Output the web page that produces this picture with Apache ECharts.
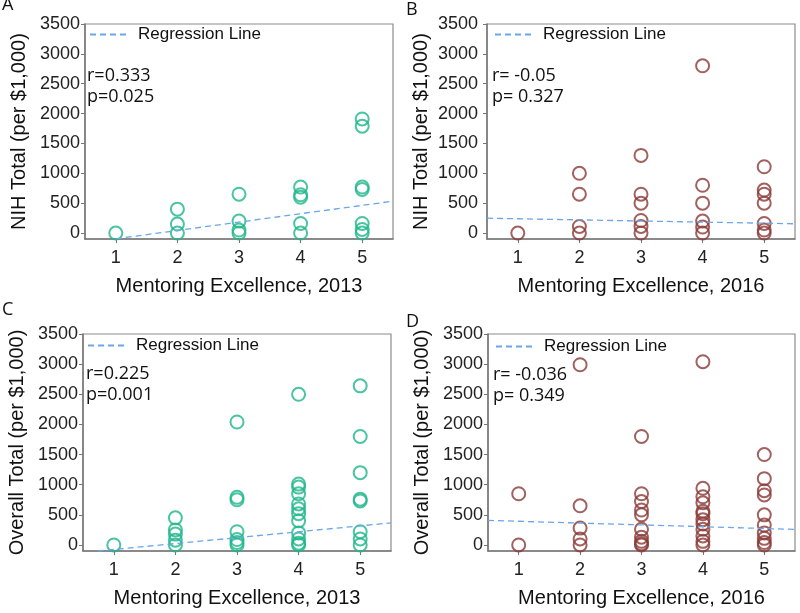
<!DOCTYPE html>
<html>
<head>
<meta charset="utf-8">
<script src="https://cdn.jsdelivr.net/npm/echarts@6/dist/echarts.min.js"></script>
<style>
  html, body { margin: 0; padding: 0; background: #fff; }
  #chart { width: 800px; height: 613px; }
</style>
</head>
<body>
<div id="chart"></div>
<script>
// data
var xLevels = [1, 2, 3, 4, 5];
var yTicks = [0, 500, 1000, 1500, 2000, 2500, 3000, 3500];

// one array per mentoring score (1..5)
var nih2013 = [[0], [400, 150, 0], [650, 200, 50, 0], [770, 640, 600, 160, 0], [1910, 1790, 770, 730, 160, 60, 0]];
var nih2016 = [[0], [1000, 650, 110, 0], [1300, 650, 500, 210, 110, 0], [2800, 800, 500, 200, 100, 0], [1110, 720, 650, 500, 160, 50, 0]];
var overall2013 = [[0], [450, 250, 180, 80, 0], [2040, 790, 750, 220, 90, 40, 0],
  [2500, 1010, 960, 850, 680, 600, 520, 400, 200, 100, 30, 0], [2640, 1800, 1200, 760, 730, 220, 100, 0]];
var overall2016 = [[850, 0], [2990, 650, 280, 100, 0], [1800, 850, 720, 580, 500, 260, 130, 60, 20, 0],
  [3040, 940, 800, 700, 560, 520, 420, 350, 260, 150, 60, 0], [1500, 1100, 900, 830, 500, 330, 200, 110, 40, 0]];

// regression line end points
var regNih2013 = [[1, -97], [5.5, 533]];
var regNih2016 = [[0.5, 248], [5.5, 155]];
var regOverall2013 = [[0.74, -100], [5.5, 366]];
var regOverall2016 = [[0.5, 408], [5.5, 258]];

var panelLetters = ['A', 'B', 'C', 'D'];
var rValues = ['r=0.333', 'r= -0.05', 'r=0.225', 'r= -0.036'];
var pValues = ['p=0.025', 'p= 0.327', 'p=0.001', 'p= 0.349'];
var yNames = ['NIH Total (per $1,000)', 'NIH Total (per $1,000)', 'Overall Total (per $1,000)', 'Overall Total (per $1,000)'];
var xNames = ['Mentoring Excellence, 2013', 'Mentoring Excellence, 2016', 'Mentoring Excellence, 2013', 'Mentoring Excellence, 2016'];

var green = '#1db58a';
var brown = '#8a3a36';
var regColor = '#6aa6e8';

function toPoints(cols) {
  var out = [];
  cols.forEach(function (vals, i) {
    vals.forEach(function (v) { out.push([xLevels[i], v]); });
  });
  return out;
}

var panels = [
  { data: nih2013, reg: regNih2013, color: green, grid: { left: 85, top: 24, width: 308, height: 215 }, labMargin: 5,
    letter: { left: 2, top: -4 }, stats: { left: 87, top: 65 }, legend: { left: 89, top: 26 } },
  { data: nih2016, reg: regNih2016, color: brown, grid: { left: 487, top: 24, width: 308, height: 215 }, labMargin: 9,
    letter: { left: 406, top: 1 }, stats: { left: 492, top: 65 }, legend: { left: 494, top: 26 } },
  { data: overall2013, reg: regOverall2013, color: green, grid: { left: 83, top: 334, width: 308, height: 217 }, labMargin: 5,
    letter: { left: 2, top: 301 }, stats: { left: 86, top: 363 }, legend: { left: 87, top: 337 } },
  { data: overall2016, reg: regOverall2016, color: brown, grid: { left: 488, top: 334, width: 307, height: 217 }, labMargin: 5,
    letter: { left: 406, top: 313 }, stats: { left: 493, top: 364 }, legend: { left: 495, top: 338 } }
];

var font = 'Liberation Sans';
var option = {
  backgroundColor: '#fff',
  animation: false,
  title: [],
  legend: [],
  grid: [],
  xAxis: [],
  yAxis: [],
  series: []
};

panels.forEach(function (p, i) {
  option.grid.push({
    left: p.grid.left, top: p.grid.top, width: p.grid.width, height: p.grid.height,
    show: true, borderColor: '#8c8c8c', borderWidth: 1.2, backgroundColor: 'transparent'
  });
  option.xAxis.push({
    type: 'value', gridIndex: i, min: 0.5, max: 5.5,
    name: xNames[i], nameLocation: 'middle', nameGap: 37,
    nameTextStyle: { fontSize: 20, color: '#111', fontFamily: font },
    axisLine: { onZero: false, lineStyle: { color: '#777', width: 1.5 } },
    axisTick: { show: true, length: 4, lineStyle: { color: '#777' }, customValues: xLevels },
    axisLabel: { fontSize: 18, color: '#222', fontFamily: font, margin: 10, customValues: xLevels },
    splitLine: { show: false }
  });
  option.yAxis.push({
    type: 'value', gridIndex: i, min: -100, max: 3500,
    name: yNames[i], nameLocation: 'middle', nameGap: 56,
    nameTextStyle: { fontSize: 20, color: '#111', fontFamily: font },
    axisLine: { show: true, onZero: false, lineStyle: { color: '#777', width: 1.5 } },
    axisTick: { show: true, length: 4, lineStyle: { color: '#777' }, customValues: yTicks },
    axisLabel: {
      fontSize: 18, color: '#222', fontFamily: font, margin: p.labMargin, customValues: yTicks,
      formatter: function (v) { return String(v); }
    },
    splitLine: { show: false }
  });
  option.series.push({
    type: 'scatter', xAxisIndex: i, yAxisIndex: i,
    symbol: 'circle', symbolSize: 13,
    itemStyle: { color: 'transparent', borderColor: p.color, borderWidth: 2 },
    data: toPoints(p.data)
  });
  option.series.push({
    name: 'Regression Line', type: 'line', xAxisIndex: i, yAxisIndex: i,
    symbol: 'none', silent: true,
    lineStyle: { color: regColor, width: 1.3, type: [6, 4] },
    itemStyle: { color: regColor },
    data: p.reg
  });
  option.legend.push({
    data: ['Regression Line'], left: p.legend.left, top: p.legend.top,
    padding: 0, itemWidth: 38, itemHeight: 16,
    itemStyle: { opacity: 0 },
    textStyle: { fontSize: 17, color: '#111', fontFamily: font, padding: [0, 0, 0, 5] }
  });
  option.title.push({
    text: panelLetters[i], left: p.letter.left, top: p.letter.top, padding: 0,
    textStyle: { fontSize: 18, fontWeight: 'normal', color: '#111', fontFamily: 'Open Sans' }
  });
  option.title.push({
    text: rValues[i] + '\n' + pValues[i], left: p.stats.left, top: p.stats.top, padding: 0,
    textStyle: { fontSize: 18, fontWeight: 'normal', color: '#111', fontFamily: 'Open Sans', lineHeight: 21 }
  });
});

var myChart = echarts.init(document.getElementById('chart'));
myChart.setOption(option);
</script>
</body>
</html>
